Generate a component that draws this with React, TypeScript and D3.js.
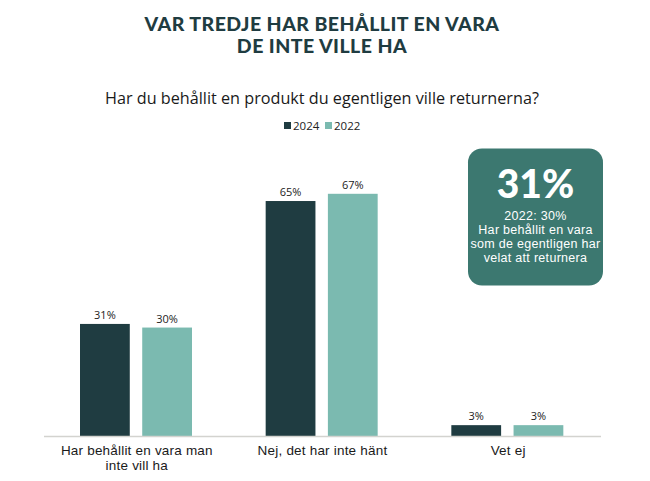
import React from "react";
import * as d3 from "d3";

const categories = ["Har behållit en vara man|inte vill ha", "Nej, det har inte hänt", "Vet ej"];
const seriesNames = ["2024", "2022"];
const values2024 = [31, 65, 3];
const values2022 = [30, 67, 3];
const seriesColors = ["#1f3c41", "#7bbab0"];
const calloutValue = "31%";
const calloutLines = ["2022: 30%", "Har behållit en vara", "som de egentligen har", "velat att returnera"];

const W = 650;
const H = 481;

export default function App() {
  const x0 = d3.scaleBand<string>().domain(categories).range([44, 601]).paddingInner(0).paddingOuter(0);
  const x1 = d3.scaleBand<string>().domain(seriesNames).range([36, 148]).paddingInner(0.2).paddingOuter(0);
  const y = d3.scaleLinear().domain([0, 100]).range([436, 74.5]);
  const series = [values2024, values2022];
  const font = "'Open Sans', sans-serif";
  const sans = "'Liberation Sans', Arial, sans-serif";

  return (
    <svg width={W} height={H} style={{ position: "absolute", left: 0, top: 0, background: "#fff" }}>
      <text x={322} y={31} textAnchor="middle" fontFamily="Lato, sans-serif" fontWeight={900} fontSize={19.5} letterSpacing={0.45} fill="#1f3c41">
        VAR TREDJE HAR BEHÅLLIT EN VARA
      </text>
      <text x={322} y={53} textAnchor="middle" fontFamily="Lato, sans-serif" fontWeight={900} fontSize={19.5} letterSpacing={0.45} fill="#1f3c41">
        DE INTE VILLE HA
      </text>
      <text x={322} y={104} textAnchor="middle" fontFamily={font} fontSize={16.2} fill="#1a1a1a">
        Har du behållit en produkt du egentligen ville returnerna?
      </text>
      {/* legend */}
      {seriesNames.map((s, i) => {
        const lx = 284 + i * 41;
        return (
          <g key={s}>
            <rect x={lx} y={122} width={7} height={7} fill={seriesColors[i]} />
            <text x={lx + 9} y={129.5} fontFamily={font} fontSize={11.5} fill="#222">
              {s}
            </text>
          </g>
        );
      })}
      {/* bars */}
      {categories.map((c, ci) => (
        <g key={c} transform={`translate(${x0(c)},0)`}>
          {seriesNames.map((s, si) => {
            const v = series[si][ci];
            const bx = x1(s)!;
            return (
              <g key={s}>
                <rect x={bx} y={y(v)} width={x1.bandwidth()} height={y(0) - y(v)} fill={seriesColors[si]} />
                <text x={bx + x1.bandwidth() / 2} y={y(v) - 5} textAnchor="middle" fontFamily={font} fontSize={11} fill="#222">
                  {v}%
                </text>
              </g>
            );
          })}
          <text x={x0.bandwidth() / 2} y={455} textAnchor="middle" fontFamily={sans} fontSize={13.5} letterSpacing={0.2} fill="#1a1a1a">
            {c.split("|").map((line, li) => (
              <tspan key={li} x={x0.bandwidth() / 2} dy={li === 0 ? 0 : 15.2}>
                {line}
              </tspan>
            ))}
          </text>
        </g>
      ))}
      <line x1={44} x2={601} y1={436.5} y2={436.5} stroke="#d3d3cf" strokeWidth={1.5} />
      {/* callout box */}
      <rect x={468} y={148.5} width={135} height={137} rx={14} fill="#3c7870" />
      <text x={535.5} y={198} textAnchor="middle" fontFamily="Lato, sans-serif" fontWeight={900} fontSize={39} fill="#fff">
        {calloutValue}
      </text>
      <text x={535.5} y={219.5} textAnchor="middle" fontFamily={sans} fontSize={12.5} letterSpacing={0.3} fill="#fff">
        {calloutLines.map((t, i) => (
          <tspan key={i} x={535.5} dy={i === 0 ? 0 : 14}>
            {t}
          </tspan>
        ))}
      </text>
    </svg>
  );
}
